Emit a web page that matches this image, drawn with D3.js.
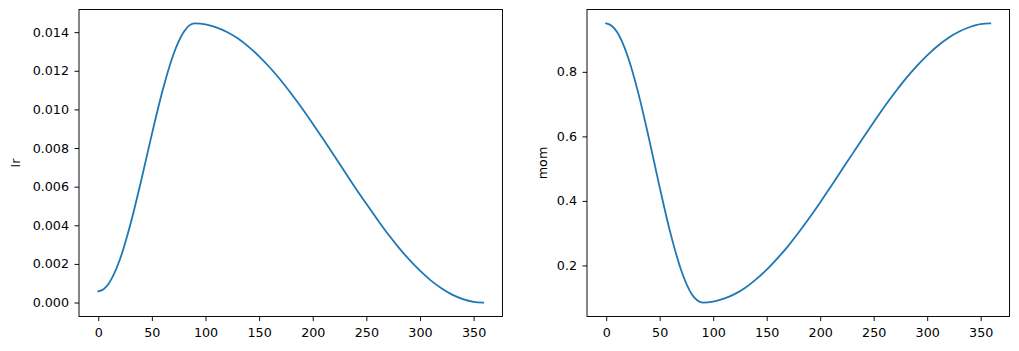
<!DOCTYPE html>
<html>
<head>
<meta charset="utf-8">
<script src="https://cdn.jsdelivr.net/npm/d3@7"></script>
<style>
  body { margin: 0; background: #fff; }
  svg { display: block; }
  .tick text { font-family: "DejaVu Sans", sans-serif; font-size: 12.7px; fill: #000; }
</style>
</head>
<body>
<div id="chart"></div>
<script>
// iterations
var iters = [0, 5, 10, 20, 30, 40, 50, 60, 70, 80, 85, 90, 100, 110, 120, 130, 140, 150, 160, 170, 180,
  190, 200, 210, 220, 230, 240, 250, 260, 270, 280, 290, 300, 310, 320, 330, 340, 350, 359];

var lrValues = [0.00058, 0.00069, 0.00100, 0.00220, 0.00405, 0.00631, 0.00872, 0.01098, 0.01283, 0.01403, 0.01435, 0.01445,
  0.01440, 0.01425, 0.01401, 0.01368, 0.01325, 0.01275, 0.01217, 0.01152, 0.01081,
  0.01006, 0.00926, 0.00844, 0.00760, 0.00676, 0.00592, 0.00511, 0.00432, 0.00356, 0.00286,
  0.00222, 0.00165, 0.00115, 0.00074, 0.00041, 0.00018, 0.00004, 0.0];

var momValues = [0.950, 0.943, 0.924, 0.849, 0.734, 0.593, 0.442, 0.301, 0.186, 0.111, 0.092, 0.085,
  0.088, 0.097, 0.111, 0.131, 0.157, 0.187, 0.222, 0.260, 0.303,
  0.348, 0.395, 0.445, 0.495, 0.545, 0.595, 0.644, 0.692, 0.737, 0.779,
  0.817, 0.851, 0.881, 0.906, 0.925, 0.939, 0.948, 0.950];

var xTicks = [0, 50, 100, 150, 200, 250, 300, 350];
var lrTicks = [0, 0.002, 0.004, 0.006, 0.008, 0.010, 0.012, 0.014];
var momTicks = [0.2, 0.4, 0.6, 0.8];

var W = 1019, H = 351;
var plotTop = 9.5, plotBottom = 316.5;

var svg = d3.select("#chart").append("svg")
  .attr("width", W)
  .attr("height", H);

// matplotlib style 5% margins
function padded(ext) {
  var r = ext[1] - ext[0];
  return [ext[0] - 0.05 * r, ext[1] + 0.05 * r];
}

function panel(x0, x1, values, ticks, fmt, label, labelX) {
  var x = d3.scaleLinear()
    .domain(padded(d3.extent(iters)))
    .range([x0, x1]);
  var y = d3.scaleLinear()
    .domain(padded(d3.extent(values)))
    .range([plotBottom, plotTop]);

  var xAxis = d3.axisBottom(x)
    .tickValues(xTicks)
    .tickFormat(d3.format("d"))
    .tickSize(4.5)
    .tickSizeOuter(0)
    .tickPadding(7);

  var yAxis = d3.axisLeft(y)
    .tickValues(ticks)
    .tickFormat(d3.format(fmt))
    .tickSize(4.5)
    .tickSizeOuter(0)
    .tickPadding(5.5);

  var gx = svg.append("g")
    .attr("transform", "translate(0," + plotBottom + ")")
    .call(xAxis);
  gx.select(".domain").remove();
  gx.selectAll(".tick line").attr("stroke", "#000").attr("stroke-width", 0.95);

  var gy = svg.append("g")
    .attr("transform", "translate(" + x0 + ",0)")
    .call(yAxis);
  gy.select(".domain").remove();
  gy.selectAll(".tick line").attr("stroke", "#000").attr("stroke-width", 0.95);

  var line = d3.line()
    .x(function(d, i){ return x(iters[i]); })
    .y(function(d){ return y(d); })
    .curve(d3.curveMonotoneX);

  svg.append("path")
    .datum(values)
    .attr("d", line)
    .attr("fill", "none")
    .attr("stroke", "#1f77b4")
    .attr("stroke-width", 1.8)
    .attr("stroke-linecap", "square");

  svg.append("rect")
    .attr("x", x0)
    .attr("y", plotTop)
    .attr("width", x1 - x0)
    .attr("height", plotBottom - plotTop)
    .attr("fill", "none")
    .attr("stroke", "#000")
    .attr("stroke-width", 0.95);

  svg.append("text")
    .attr("transform", "translate(" + labelX + "," + ((plotTop + plotBottom) / 2) + ")rotate(-90)")
    .attr("text-anchor", "middle")
    .attr("font-family", "DejaVu Sans, sans-serif")
    .attr("font-size", "12.7px")
    .text(label);
}

panel(79, 502.5, lrValues, lrTicks, ".3f", "lr", 20);
panel(587, 1009.5, momValues, momTicks, ".1f", "mom", 547);
</script>
</body>
</html>
